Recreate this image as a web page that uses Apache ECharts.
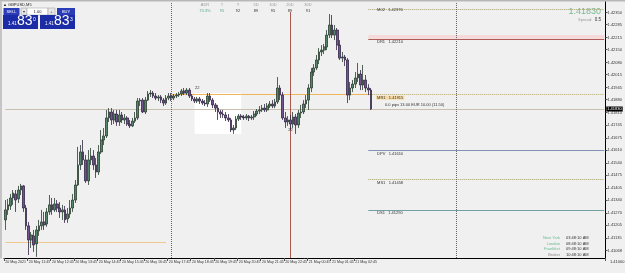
<!DOCTYPE html>
<html><head><meta charset="utf-8">
<script src="https://cdn.jsdelivr.net/npm/echarts@6/dist/echarts.min.js"></script>
<style>html,body{margin:0;padding:0;background:#f0f0f0}#c{width:625px;height:273px}</style>
</head><body><div id="c"></div>
<script>
// ---- data (GBPUSD candles) ----
const openP = [
1.41233,1.41287,1.41308,1.41351,1.41373,1.41346,1.41394,1.41416,1.41297,1.41201,
1.41125,1.41147,1.41104,1.41174,1.41201,1.41222,1.41211,1.41276,1.41314,1.41287,
1.41319,1.41297,1.41276,1.41287,1.41238,1.41265,1.41297,1.41340,1.41421,1.41529,
1.41599,1.41556,1.41443,1.41556,1.41577,1.41529,1.41491,1.41599,1.41663,1.41685,
1.41782,1.41814,1.41771,1.41803,1.41760,1.41798,1.41771,1.41782,1.41749,1.41739,
1.41765,1.41782,1.41873,1.41878,1.41814,1.41878,1.41911,1.41916,1.41900,1.41889,
1.41895,1.41878,1.41862,1.41889,1.41900,1.41889,1.41900,1.41905,1.41911,1.41927,
1.41916,1.41932,1.41900,1.41884,1.41873,1.41884,1.41873,1.41862,1.41857,1.41900,
1.41878,1.41852,1.41835,1.41814,1.41803,1.41798,1.41782,1.41771,1.41717,1.41728,
1.41776,1.41792,1.41787,1.41782,1.41792,1.41782,1.41787,1.41803,1.41819,1.41825,
1.41835,1.41825,1.41846,1.41857,1.41846,1.41868,1.41943,1.41905,1.41782,1.41760,
1.41771,1.41749,1.41787,1.41744,1.41808,1.41814,1.41857,1.41878,1.41943,1.42029,
1.42051,1.42094,1.42137,1.42147,1.42164,1.42228,1.42282,1.42228,1.42255,1.42174,
1.42104,1.42110,1.42094,1.41905,1.41943,1.41964,1.41997,1.42018,1.41959,1.41986,
1.41943,1.41932];
const closeP = [
1.41287,1.41314,1.41351,1.41378,1.41340,1.41394,1.41416,1.41297,1.41201,1.41125,
1.41152,1.41098,1.41179,1.41201,1.41222,1.41206,1.41276,1.41314,1.41287,1.41319,
1.41297,1.41276,1.41287,1.41233,1.41265,1.41297,1.41340,1.41421,1.41529,1.41599,
1.41556,1.41443,1.41556,1.41577,1.41529,1.41491,1.41599,1.41663,1.41685,1.41782,
1.41814,1.41771,1.41803,1.41760,1.41798,1.41771,1.41782,1.41749,1.41739,1.41765,
1.41782,1.41873,1.41878,1.41814,1.41878,1.41911,1.41916,1.41900,1.41889,1.41895,
1.41878,1.41862,1.41889,1.41900,1.41889,1.41900,1.41905,1.41911,1.41927,1.41916,
1.41932,1.41900,1.41884,1.41873,1.41884,1.41873,1.41862,1.41857,1.41900,1.41878,
1.41852,1.41835,1.41814,1.41803,1.41798,1.41782,1.41771,1.41717,1.41728,1.41776,
1.41792,1.41787,1.41782,1.41792,1.41782,1.41787,1.41803,1.41819,1.41825,1.41835,
1.41825,1.41846,1.41857,1.41846,1.41868,1.41943,1.41905,1.41782,1.41760,1.41771,
1.41749,1.41787,1.41744,1.41808,1.41814,1.41857,1.41878,1.41943,1.42029,1.42051,
1.42094,1.42137,1.42147,1.42164,1.42228,1.42282,1.42228,1.42255,1.42174,1.42104,
1.42110,1.42094,1.41905,1.41943,1.41964,1.41997,1.42018,1.41959,1.41986,1.41943,
1.41932,1.41830];
const highP = [
1.41340,1.41346,1.41373,1.41394,1.41394,1.41416,1.41427,1.41421,1.41314,1.41222,
1.41168,1.41179,1.41201,1.41233,1.41287,1.41276,1.41297,1.41367,1.41351,1.41351,
1.41340,1.41329,1.41314,1.41308,1.41297,1.41340,1.41373,1.41448,1.41626,1.41636,
1.41663,1.41583,1.41609,1.41620,1.41609,1.41566,1.41636,1.41717,1.41728,1.41825,
1.41835,1.41835,1.41825,1.41825,1.41825,1.41814,1.41803,1.41792,1.41771,1.41782,
1.41814,1.41889,1.41889,1.41889,1.41895,1.41927,1.41932,1.41927,1.41916,1.41905,
1.41905,1.41889,1.41905,1.41916,1.41916,1.41911,1.41916,1.41921,1.41938,1.41943,
1.41943,1.41943,1.41911,1.41895,1.41895,1.41895,1.41884,1.41878,1.41916,1.41916,
1.41889,1.41862,1.41852,1.41825,1.41825,1.41814,1.41803,1.41782,1.41744,1.41792,
1.41803,1.41803,1.41798,1.41803,1.41798,1.41798,1.41819,1.41830,1.41846,1.41852,
1.41857,1.41862,1.41873,1.41878,1.41884,1.42002,1.41959,1.41921,1.41814,1.41792,
1.41798,1.41814,1.41803,1.41825,1.41852,1.41878,1.41905,1.41964,1.42051,1.42072,
1.42121,1.42158,1.42174,1.42180,1.42255,1.42341,1.42336,1.42282,1.42266,1.42201,
1.42137,1.42121,1.42104,1.41975,1.41986,1.42029,1.42078,1.42040,1.42067,1.42013,
1.41964,1.41943];
const lowP = [
1.41179,1.41260,1.41287,1.41314,1.41276,1.41324,1.41367,1.41276,1.41179,1.41044,
1.41082,1.41061,1.41034,1.41147,1.41179,1.41179,1.41196,1.41260,1.41260,1.41276,
1.41276,1.41244,1.41233,1.41217,1.41217,1.41244,1.41276,1.41324,1.41416,1.41502,
1.41529,1.41432,1.41421,1.41529,1.41502,1.41459,1.41475,1.41588,1.41636,1.41674,
1.41760,1.41744,1.41749,1.41739,1.41739,1.41755,1.41749,1.41739,1.41728,1.41733,
1.41755,1.41771,1.41846,1.41808,1.41803,1.41873,1.41895,1.41889,1.41878,1.41873,
1.41862,1.41846,1.41852,1.41878,1.41873,1.41878,1.41889,1.41895,1.41900,1.41905,
1.41905,1.41889,1.41873,1.41862,1.41862,1.41857,1.41852,1.41846,1.41841,1.41868,
1.41835,1.41814,1.41771,1.41782,1.41782,1.41765,1.41760,1.41706,1.41696,1.41717,
1.41765,1.41771,1.41771,1.41771,1.41765,1.41771,1.41771,1.41792,1.41803,1.41814,
1.41814,1.41814,1.41835,1.41835,1.41835,1.41857,1.41878,1.41771,1.41728,1.41739,
1.41717,1.41728,1.41696,1.41728,1.41782,1.41803,1.41835,1.41825,1.41921,1.42008,
1.42040,1.42072,1.42115,1.42126,1.42147,1.42212,1.42212,1.42201,1.42147,1.42094,
1.42083,1.42061,1.41862,1.41878,1.41921,1.41943,1.41975,1.41932,1.41932,1.41921,
1.41905,1.41825];

const totalSlots = 232;          // bar slots incl. chart shift space
const labelEvery = 9;            // bars between time labels
const timeLabels = ['20 May 2021','20 May 11:45','20 May 12:45','20 May 13:45','20 May 14:45',
  '20 May 15:45','20 May 16:45','20 May 17:45','20 May 18:45','20 May 19:45','20 May 20:45',
  '20 May 21:45','20 May 22:45','21 May 00:45','21 May 01:45','21 May 02:45'];
const priceTicks = [1.41068,1.41135,1.41205,1.41270,1.41340,1.41405,1.41475,1.41540,1.41610,
  1.41675,1.41745,1.41810,1.41880,1.41945,1.42015,1.42080,1.42150,1.42215,1.42285,1.42350];
const priceMin = 1.41028, priceMax = 1.42406;
const bidPrice = 1.41830;

const levelNames  = ['M02','DR1','MR1','DPV','MS1','DS1'];
const levelValues = [1.42365,1.42208,1.41910,1.41609,1.41452,1.41287];
const levelText   = ['1.42376','1.42210','1.41915','1.41610','1.41458','1.41290'];
const levelColors = ['#a9a26c','#b25a5a','#b5aa6a','#8592b8','#aaa062','#73a0a0'];
const levelDash   = ['dotted','solid','dotted','solid','dotted','solid'];

const daySepIdx = [64, 174];
const redLineIdx = 110, redLineTop = 1.42352;
const mr1SolidFrom = 64, lowOrangeValue = 1.41114, lowOrangeTo = 62;
const boxFrom = [73, 1.41916], boxTo = [91, 1.41696];
const notes = [{idx:74, price:1.41943, text:'22'}, {idx:110, price:1.41717, text:'22'}];

const statHead = ['ADR','T','Y','5D','10D','20D','30D'];
const statVal  = ['73.3%','95','92','89','95','89','91'];
const clockNames = ['New York','London','Frankfurt','Broker'];
const clockTimes = ['03:48:10 AM','08:48:10 AM','09:48:10 AM','10:48:10 AM'];

// ---- build ----
const n = openP.length;
const cats = [];
for (let i = 0; i < totalSlots; i++) cats.push(String(i));
const candles = openP.map((o, i) => [o, closeP[i], lowP[i], highP[i]]);
const showTick = idx => idx % labelEvery === 0 && idx < n;
const lastIdx = totalSlots - 1;

const mlData = [];
mlData.push([{coord:[0, bidPrice], lineStyle:{color:'#c9bfae', type:'solid', width:1},
  label:{show:true, position:'end', formatter:bidPrice.toFixed(5), backgroundColor:'#000', color:'#fff',
  fontSize:4, padding:[1,1,0,1], distance:2}}, {coord:[lastIdx, bidPrice]}]);
mlData.push([{coord:[mr1SolidFrom, levelValues[2]], lineStyle:{color:'#efb65c', type:'solid', width:1}}, {coord:[n-1, levelValues[2]]}]);
mlData.push([{coord:[0, lowOrangeValue], lineStyle:{color:'#eec88e', type:'solid', width:1}}, {coord:[lowOrangeTo, lowOrangeValue]}]);
levelValues.forEach((v, k) => {
  mlData.push([{coord:[n-2, v], lineStyle:{color:levelColors[k], type:levelDash[k], width:1}}, {coord:[lastIdx, v]}]);
});
daySepIdx.forEach(ix => mlData.push({xAxis: ix, lineStyle:{color:'#666', type:'dotted', width:1}}));
mlData.push([{coord:[redLineIdx, redLineTop], lineStyle:{color:'#a85a50', type:'solid', width:1}}, {coord:[redLineIdx, priceMin]}]);

const mpData = levelNames.map((nm, k) => ({
  coord:[n + 1, levelValues[k]], value: nm,
  label:{show:true, position:'right', distance:0, offset:[0, k===0 ? 0 : 3.5],
    formatter: nm + '   ' + levelText[k], fontSize:4, color:'#333',
    backgroundColor: nm === 'MR1' ? '#f6d9a2' : 'transparent', padding:[0,1]}
}));
notes.forEach(nt => mpData.push({coord:[nt.idx, nt.price], value:nt.text,
  label:{show:true, position:'inside', formatter:nt.text, fontSize:4, color:'#333'}}));

const graphics = [];
graphics.push({type:'rect', shape:{x:0,y:0,width:625,height:1.5}, style:{fill:'#b8b8b8'}});
graphics.push({type:'rect', shape:{x:0.5,y:1.5,width:1,height:257}, style:{fill:'#9a9a9a'}});
graphics.push({type:'text', x:3, y:2.5, style:{text:'▲ GBPUSD,M5', fontSize:4, fill:'#222', fontFamily:'Liberation Sans'}});
function btn(x, y, w, h, fill, txt, col, stroke) {
  graphics.push({type:'rect', shape:{x, y, width:w, height:h}, style:{fill, stroke: stroke || null, lineWidth:0.5}});
  graphics.push({type:'text', x: x + w/2, y: y + h/2, style:{text:txt, fontSize:4, fill:col, align:'center', verticalAlign:'middle', fontFamily:'Liberation Sans'}});
}
btn(3.5, 8, 16, 7, '#2b3cb8', 'SELL', '#fff');
btn(21, 8, 6, 7, '#e6e6e6', '▾', '#333', '#999');
btn(27, 8, 21, 7, '#ffffff', '1.00', '#222', '#999');
btn(48, 8, 7, 7, '#e6e6e6', '+', '#333', '#999');
btn(57, 8, 18, 7, '#2b3cb8', 'BUY', '#fff');
function quote(x, sup) {
  graphics.push({type:'rect', shape:{x, y:15, width:35, height:14}, style:{fill:'#1c2ba6'}});
  graphics.push({type:'text', x:x+5, y:26.5, style:{text:'1.41', fontSize:4.5, fill:'#fff', verticalAlign:'bottom', fontFamily:'Liberation Sans'}});
  graphics.push({type:'text', x:x+14, y:28.5, style:{text:'83', fontSize:14, fill:'#fff', verticalAlign:'bottom', fontFamily:'Liberation Sans'}});
  graphics.push({type:'text', x:x+30, y:17, style:{text:sup, fontSize:5, fill:'#fff', fontFamily:'Liberation Sans'}});
}
quote(3, '0'); quote(40, '3');
const statX = [205, 222, 238, 256, 273, 290, 308];
statHead.forEach((h, k) => {
  graphics.push({type:'text', x:statX[k], y:5, style:{text:h, fontSize:4, fill:'#999', align:'center', verticalAlign:'middle', fontFamily:'Liberation Sans'}});
  graphics.push({type:'text', x:statX[k], y:11, style:{text:statVal[k], fontSize:4, fill: k < 2 ? '#58a888' : '#333', align:'center', verticalAlign:'middle', fontFamily:'Liberation Sans'}});
});
graphics.push({type:'text', x:601, y:11.5, style:{text:bidPrice.toFixed(5), fontSize:9, fill:'#7bb892', align:'right', verticalAlign:'middle', fontFamily:'Liberation Sans'}});
graphics.push({type:'text', x:592, y:19.5, style:{text:'Spread:', fontSize:4, fill:'#999', align:'right', verticalAlign:'middle', fontFamily:'Liberation Sans'}});
graphics.push({type:'text', x:601, y:19.5, style:{text:'0.5', fontSize:4.5, fill:'#333', align:'right', verticalAlign:'middle', fontFamily:'Liberation Sans'}});
graphics.push({type:'text', x:385, y:105, style:{text:'0.0 pips 13.00 EUR 10.00 (11.50)', fontSize:4, fill:'#333', verticalAlign:'middle', fontFamily:'Liberation Sans'}});
const clockY = [238, 243.5, 249, 254.5];
clockNames.forEach((nm, k) => {
  graphics.push({type:'text', x:560, y:clockY[k], style:{text:nm, fontSize:4, fill: k < 3 ? '#6fba93' : '#888', align:'right', verticalAlign:'middle', fontFamily:'Liberation Sans'}});
  graphics.push({type:'text', x:566, y:clockY[k], style:{text:clockTimes[k], fontSize:4, fill:'#333', verticalAlign:'middle', fontFamily:'Liberation Sans'}});
});
graphics.push({type:'text', x:610, y:262, style:{text:'1.41000', fontSize:4, fill:'#333', verticalAlign:'middle', fontFamily:'Liberation Sans'}});

const chart = echarts.init(document.getElementById('c'), null, {renderer:'canvas'});
chart.setOption({
  backgroundColor:'#f0f0f0',
  animation:false,
  textStyle:{fontFamily:'Liberation Sans'},
  grid:{left:4, right:17, top:2, bottom:15},
  xAxis:{type:'category', data:cats, boundaryGap:true,
    axisLine:{lineStyle:{color:'#000', width:1}},
    axisTick:{show:true, length:3, interval:(i)=>showTick(i), lineStyle:{color:'#555'}},
    axisLabel:{interval:(i)=>showTick(i), formatter:(v, i)=> showTick(i) ? timeLabels[i/labelEvery] : '',
      fontSize:3.6, color:'#333', margin:1.5, align:'left'},
    splitLine:{show:false}},
  yAxis:{type:'value', position:'right', min:priceMin, max:priceMax,
    axisLine:{show:true, lineStyle:{color:'#000', width:1}},
    axisTick:{show:true, length:2, customValues:priceTicks, lineStyle:{color:'#555'}},
    axisLabel:{customValues:priceTicks, formatter:(v)=>v.toFixed(5), fontSize:4, color:'#333', margin:2},
    splitLine:{show:false}},
  series:[
    {type:'line', data:[], z:1, silent:true,
      markArea:{silent:true, data:[
        [{coord:boxFrom, itemStyle:{color:'#ffffff'}}, {coord:boxTo}],
        [{coord:[n-2, levelValues[1]], itemStyle:{color:'#f6dada'}}, {coord:[lastIdx, levelValues[1] + 0.0002]}]
      ]}},
    {type:'line', data:[], z:2, silent:true,
      markLine:{silent:true, symbol:['none','none'], label:{show:false}, data:mlData}},
    {type:'candlestick', data:candles, z:5, barWidth:2.2,
      itemStyle:{color:'#55866a', color0:'#74548f', borderColor:'#2a3d31', borderColor0:'#342646', borderWidth:0.8}},
    {type:'line', data:[], z:6, silent:true,
      markPoint:{silent:true, symbol:'circle', symbolSize:0.01, itemStyle:{color:'transparent'}, data:mpData}}
  ],
  graphic:graphics
});
</script></body></html>
